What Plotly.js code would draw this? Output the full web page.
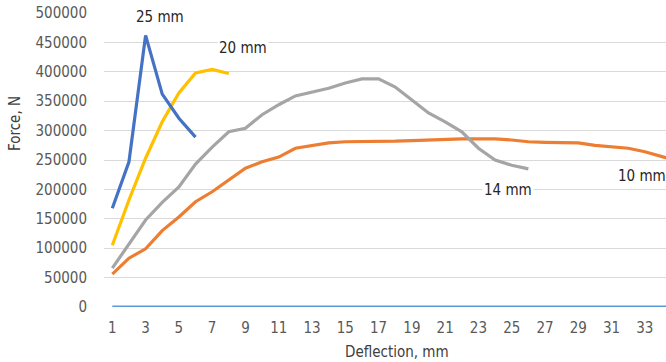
<!DOCTYPE html>
<html><head><meta charset="utf-8">
<script src="https://cdn.plot.ly/plotly-3.0.1.min.js"></script>
<style>html,body{margin:0;padding:0;background:#fff}#c{width:666px;height:362px}</style>
</head><body><div id="c"></div>
<script>
const deflection = Array.from({length: 35}, (_, i) => i + 1);
const force25 = [168000, 247000, 462000, 362000, 321000, 289000];
const force20 = [105000, 182000, 253000, 315000, 364000, 398000, 404000, 397000];
const force14 = [66000, 106000, 148000, 178000, 204000, 243000, 272000, 298000, 304000, 327000, 344000, 359000, 366000, 372000, 381000, 388000, 388000, 374000, 352000, 330000, 315000, 298000, 270000, 250000, 241000, 235000];
const force10 = [56000, 83000, 99000, 130000, 153000, 179000, 196000, 216000, 236000, 247000, 255000, 270000, 274000, 279000, 281000, 281000, 281000, 282000, 283000, 284000, 286000, 286000, 286000, 286000, 284000, 281000, 280000, 280000, 279000, 275000, 272000, 270000, 264000, 256000, 248000];
const baseline = deflection.map(() => 0);
const labels = ["25 mm", "20 mm", "14 mm", "10 mm"];
const xTitle = "Deflection, mm";
const yTitle = "Force, N";

const FONT = "'DejaVu Sans Condensed', 'Liberation Sans Narrow', 'DejaVu Sans', sans-serif";
function tr(y, color) {
  return {x: deflection.slice(0, y.length), y: y, type: 'scatter', mode: 'lines',
    line: {color: color, width: 3.2}, hoverinfo: 'skip', cliponaxis: true};
}
const data = [
  tr(baseline, '#5B9BD5'),
  tr(force10, '#ED7D31'),
  tr(force14, '#A5A5A5'),
  tr(force20, '#FFC000'),
  tr(force25, '#4472C4')
];
const seriesLabels = [
  {x: 3.85, y: 493000, text: labels[0]},
  {x: 8.87, y: 440000, text: labels[1]},
  {x: 24.8, y: 199000, text: labels[2]},
  {x: 32.8, y: 222000, text: labels[3]}
].map(a => Object.assign(a, {xref: 'x', yref: 'y', showarrow: false, bgcolor: '#fff',
    xanchor: 'center', yanchor: 'middle',
    font: {size: 15, color: '#262626', family: FONT}}));
const titleAnns = [
  {xref: 'paper', yref: 'paper', x: (397 - 104) / 562, y: (307 - 352) / 294, text: xTitle,
   xanchor: 'center', yanchor: 'middle',
   showarrow: false, font: {size: 15, color: '#404040', family: FONT}},
  {xref: 'paper', yref: 'paper', x: (15 - 104) / 562, y: (307 - 124) / 294, text: yTitle,
   xanchor: 'center', yanchor: 'middle',
   textangle: -90, showarrow: false, font: {size: 15, color: '#404040', family: FONT}}
];
const layout = {
  width: 666, height: 362,
  margin: {l: 104, r: 0, t: 13, b: 55},
  paper_bgcolor: '#fff', plot_bgcolor: '#fff',
  showlegend: false,
  font: {family: FONT, color: '#595959', size: 15},
  xaxis: {range: [0.5, 34.27], tickvals: deflection.filter(v => v % 2 === 1), ticks: '',
    showgrid: false, zeroline: false, showline: false, automargin: false,
    ticklabelstandoff: 10,
    tickfont: {size: 15, color: '#595959'}},
  yaxis: {range: [0, 500000], dtick: 50000, tickformat: 'd', ticks: '',
    showgrid: true, gridcolor: '#D9D9D9', gridwidth: 1, zeroline: false, showline: false,
    ticklabelstandoff: 16, automargin: false,
    tickfont: {size: 15, color: '#595959'}},
  annotations: seriesLabels.concat(titleAnns)
};
Plotly.newPlot('c', data, layout, {displayModeBar: false, staticPlot: true});
</script></body></html>
